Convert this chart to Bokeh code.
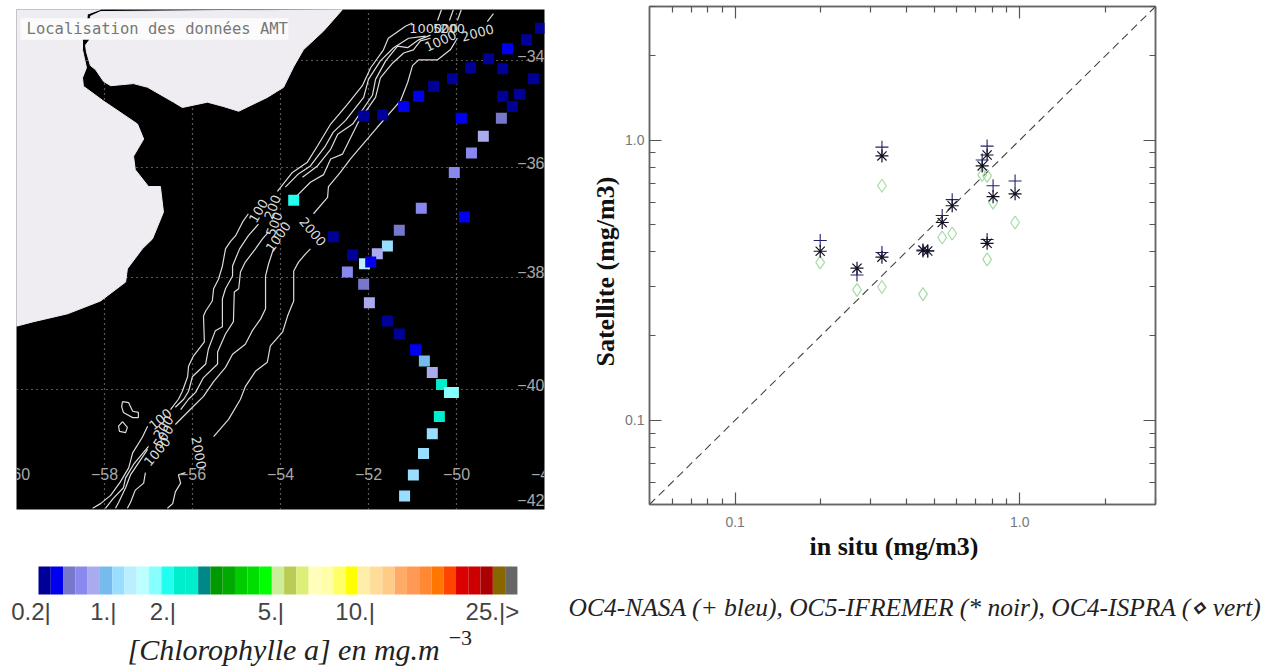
import numpy as np
from bokeh.core.properties import value
from bokeh.embed import file_html
from bokeh.layouts import column, row
from bokeh.models import FixedTicker, LogAxis, Range1d, Title
from bokeh.plotting import figure
from bokeh.resources import INLINE

nan = float("nan")

# ---- colour scale of the chlorophyll map
palette = ["#000099", "#0000ee", "#7777cc", "#8888ee", "#aaaaee", "#77bbee", "#99ddff", "#bbeeff", "#bbffff",
           "#88ffff", "#22ffee", "#00eecc", "#00eecc", "#008888", "#009900", "#00aa00", "#00cc00", "#00dd00",
           "#00ff00", "#ccee99", "#bbcc55", "#ddee77", "#ffffbb", "#ffffaa", "#ffff66", "#ffff00", "#ffeeaa",
           "#ffdd99", "#ffcc88", "#ffaa66", "#ff9955", "#ff8833", "#ff7700", "#ff4400", "#dd0000", "#cc0000",
           "#aa0000", "#886600", "#666666"]
scale_ticks = [1, 6.35, 11.2, 20, 27.4, 38]
scale_labels = ["0.2|", "1.|", "2.|", "5.|", "10.|", "25.|"]

# ---- AMT stations
st_lon = [-48.09, -48.41, -48.84, -49.27, -49.68, -48.95, -50.09, -48.25, -50.52, -50.86, -48.95, -48.57, -48.73,
          -51.20, -51.68, -52.11, -49.89, -48.98, -49.39, -49.66, -50.05, -49.82, -50.80, -51.30, -52.80, -51.57,
          -51.80, -52.36, -52.09, -51.95, -52.48, -52.11, -51.98, -51.57, -51.30, -50.93, -50.73, -50.55, -50.34,
          -50.07, -50.16, -50.39, -50.55, -50.75, -50.98, -51.18, -53.70]
st_lat = [-33.38, -33.60, -33.77, -33.96, -34.13, -34.15, -34.34, -34.34, -34.48, -34.67, -34.67, -34.63, -34.86,
          -34.86, -35.02, -35.04, -35.08, -35.08, -35.42, -35.73, -36.09, -36.91, -36.75, -37.15, -37.27, -37.44,
          -37.58, -37.60, -37.76, -37.73, -37.91, -38.13, -38.46, -38.79, -39.02, -39.30, -39.50, -39.70, -39.91,
          -40.05, -40.05, -40.47, -40.77, -41.11, -41.48, -41.84, -36.60]
st_class = [0, 0, 1, 0, 0, 0, 0, 0, 0, 1, 0, 0, 0,
            1, 0, 0, 1, 2, 4, 3, 3, 1, 3, 2, 0, 6,
            4, 0, 7, 1, 3, 2, 4, 0, 0, 1, 5, 4, 11,
            9, 9, 11, 6, 6, 6, 6, 10]

# ---- coastline
west_lon = [-60, -58.09, -58.39, -58.41, -58.50, -58.50, -58.41, -58.50, -58.48, -58.02, -57.57, -57.25, -57.11,
            -57.34, -57.30, -57.00, -56.73, -56.66, -56.91, -57.14, -57.48, -57.52, -58.09, -58.84, -59.61, -60]
west_lat = [-33.02, -33.02, -33.11, -33.32, -33.60, -33.79, -34.13, -34.32, -34.48, -34.76, -35.01, -35.19, -35.47,
            -35.79, -36.04, -36.35, -36.35, -36.82, -37.31, -37.49, -37.85, -38.09, -38.43, -38.66, -38.80, -38.88]
north_lon = [-58.09, -58.32, -58.34, -58.43, -58.41, -58.32, -58.20, -58.02, -57.86, -57.34, -57.02, -56.43, -56.23,
             -55.66, -55.30, -54.95, -54.30, -53.93, -53.70, -53.48, -53.02, -52.59]
north_lat = [-33.06, -33.15, -33.60, -33.70, -33.83, -34.09, -34.17, -34.39, -34.47, -34.43, -34.50, -34.78, -34.88,
             -34.78, -34.86, -34.95, -34.69, -34.50, -34.11, -33.79, -33.43, -33.02]

# ---- isobaths
iso100_lon = [-58.27, -58.09, -57.86, -57.64, -57.45, -57.36, -57.14, -57.02, nan, -56.50, -56.32, -56.23, -56.11,
              -56.09, -55.98, -55.73, -55.75, -55.70, -55.55, -55.52, -55.41, -55.32, -55.25, -55.14, -55.02, -54.86,
              -54.73, nan, -54.07, -53.73, -53.39, -53.16, -52.86, -52.48, -52.14, -51.95, -51.66, -51.55, -51.16,
              -51.00, nan, -50.43, -50.34]
iso100_lat = [-42.05, -41.97, -41.83, -41.60, -41.36, -41.10, -40.83, -40.64, nan, -40.35, -40.17, -40.03, -39.77,
              -39.59, -39.41, -39.16, -38.70, -38.61, -38.43, -38.21, -38.04, -37.80, -37.49, -37.36, -37.25, -37.00,
              -36.85, nan, -36.44, -36.09, -35.90, -35.60, -35.19, -34.82, -34.47, -34.13, -33.79, -33.57, -33.34,
              -33.28, nan, -33.23, -33.02]
iso200_lon = [-57.98, -57.80, -57.57, -57.52, -57.34, -57.00, nan, -56.39, -56.20, -56.09, -56.00, -55.70, -55.64,
              -55.48, -55.32, -55.32, -55.25, -55.09, -55.09, -54.93, -54.73, -54.50, nan, -53.89, -53.61, -53.32,
              -52.98, -52.80, -52.52, -52.11, -52.00, -51.73, -51.43, -51.09, -50.70, nan, -50.16, -50.07]
iso200_lat = [-42.05, -41.88, -41.70, -41.53, -41.30, -40.99, nan, -40.31, -40.17, -40.03, -39.77, -39.55, -39.29,
              -38.96, -38.89, -38.39, -38.21, -37.98, -37.80, -37.49, -37.25, -37.04, nan, -36.36, -36.13, -35.97,
              -35.60, -35.34, -35.12, -34.69, -34.35, -34.00, -33.75, -33.57, -33.53, nan, -33.23, -33.02]
iso500_lon = [-57.75, -57.68, -57.52, -57.41, -57.25, -57.02, nan, -56.27, -56.09, -55.93, -55.75, -55.43, -55.43,
              -55.25, -55.07, -55.05, -54.95, -54.91, -54.80, -54.57, -54.41, -54.27, nan, -53.50, -53.16, -52.86,
              -52.70, -52.36, -51.91, -51.84, -51.61, -51.34, -51.11, -50.86, -50.59, nan, -49.98, -49.89]
iso500_lat = [-42.05, -41.95, -41.70, -41.48, -41.30, -41.04, nan, -40.35, -40.17, -40.05, -39.79, -39.55, -39.34,
              -39.02, -38.80, -38.27, -38.21, -37.91, -37.73, -37.49, -37.31, -37.18, nan, -36.18, -35.97, -35.66,
              -35.38, -35.19, -34.65, -34.35, -34.00, -33.72, -33.75, -33.60, -33.51, nan, -33.23, -33.02]
iso1000_lon = [-57.48, -57.41, -57.30, -57.11, -57.07, nan, -56.39, -56.00, -55.75, -55.52, -55.25, -55.09, -54.80,
               -54.64, -54.45, -54.34, -54.34, -54.27, -54.16, nan, -53.64, -53.32, -53.02, -52.86, -52.59, -52.23,
               -51.84, -51.73, -51.45, -51.20, -50.98, -50.82, -50.59]
iso1000_lat = [-42.05, -41.95, -41.74, -41.62, -41.44, nan, -40.61, -40.31, -40.12, -39.86, -39.61, -39.38, -39.20,
               -38.96, -38.75, -38.57, -37.98, -37.76, -37.49, nan, -36.53, -36.27, -36.13, -35.84, -35.75, -35.15,
               -34.69, -34.32, -34.04, -33.85, -33.79, -33.62, -33.57]
iso2000_lon = [-56.57, -56.45, -56.39, -56.27, -56.32, -56.16, nan, -55.52, -55.18, -54.91, -54.80, -54.57, -54.30,
               -54.23, -53.95, -53.84, -53.70, -53.70, -53.59, -53.43, -53.32, nan, -53.25, -52.93, -52.91, -52.64,
               -52.41, -51.80, -51.27, -51.11, -51.00, -50.86, -50.43, -50.14, -49.98, nan, -49.30, -49.16]
iso2000_lat = [-42.05, -41.97, -41.77, -41.62, -41.48, -41.44, nan, -40.82, -40.52, -40.17, -39.95, -39.68, -39.52,
               -39.23, -38.98, -38.70, -38.43, -37.89, -37.73, -37.58, -37.49, nan, -36.85, -36.55, -36.35, -36.09,
               -35.84, -35.25, -34.75, -34.41, -34.09, -33.98, -33.98, -33.79, -33.57, nan, -33.25, -33.10]
blob1_lon = [-57.59, -57.45, -57.36, -57.23, -57.23, -57.36, -57.57, -57.61, -57.59]
blob1_lat = [-40.21, -40.23, -40.38, -40.40, -40.49, -40.49, -40.40, -40.30, -40.21]
blob2_lon = [-57.59, -57.48, -57.52, -57.66, -57.68, -57.59]
blob2_lat = [-40.56, -40.66, -40.75, -40.73, -40.64, -40.56]

iso_text = ["100", "200", "500", "1000", "2000", "100", "200", "500", "1000", "2000",
            "1000", "500", "200", "1000", "2000"]
iso_text_lon = [-56.73, -56.66, -56.66, -56.80, -55.86, -54.50, -54.18, -54.14, -54.05, -53.27,
                -50.70, -50.25, -50.09, -50.36, -49.52]
iso_text_lat = [-40.52, -40.66, -40.82, -41.08, -41.10, -36.80, -36.73, -37.04, -37.27, -37.18,
                -33.38, -33.38, -33.38, -33.62, -33.47]
iso_text_angle = [40, 55, 55, 50, -80, 60, 70, 70, 55, -50, 0, 0, 0, 25, 15]

lon_ticks = [-60, -58, -56, -54, -52, -50, -48]
lat_ticks = [-34, -36, -38, -40, -42]
lon_grid = [-58, -56, -54, -52, -50]
lat_grid = [-34, -36, -38, -40]

# ---- match-up: in situ against the three satellite algorithms
in_situ = [0.199, 0.268, 0.328, 0.328, 0.457, 0.475, 0.534, 0.579, 0.738, 0.768, 0.806, 0.768, 0.963]
oc4_nasa = [0.438, 0.330, 0.944, 0.397, 0.402, 0.402, 0.538, 0.613, 0.849, 0.952, 0.687, 0.442, 0.715]
oc5_ifremer = [0.401, 0.349, 0.878, 0.382, 0.405, 0.402, 0.508, 0.583, 0.809, 0.885, 0.628, 0.428, 0.643]
oc4_ispra = [0.366, 0.292, 0.687, 0.299, 0.282, nan, 0.449, 0.464, 0.751, 0.745, 0.598, 0.375, 0.508]
one_to_one = [0.05, 3.0]
major_ticks = [0.1, 1.0]
minor_ticks = [0.06, 0.07, 0.08, 0.09, 0.2, 0.3, 0.4, 0.5, 0.6, 0.7, 0.8, 0.9, 2.0, 3.0]


def merc(lat):
    return -np.arcsinh(np.tan(np.radians(-np.asarray(lat, dtype=float))))


INK = "#dcdcdc"

# ======================= map
m = figure(width=560, height=520, output_backend="svg", toolbar_location=None, frame_align=False,
           x_range=Range1d(-60, -48), y_range=Range1d(float(merc(-42.07)), float(merc(-33.02))),
           min_border_left=16, min_border_right=16, min_border_top=9, min_border_bottom=11,
           background_fill_color="black", border_fill_color="white")
m.axis.visible = False
m.outline_line_color = None
m.xgrid.ticker = FixedTicker(ticks=lon_grid)
m.ygrid.ticker = FixedTicker(ticks=[float(merc(t)) for t in lat_grid])
for g in (m.xgrid, m.ygrid):
    g.grid_line_color = "#b0b0b0"
    g.grid_line_dash = "1 4"
    g.grid_line_width = 1.2

m.patch(west_lon, merc(west_lat), fill_color="#efecf2", line_color="#efecf2")
m.patch(north_lon, merc(north_lat), fill_color="#efecf2", line_color="#efecf2")

for lo, la in [(iso100_lon, iso100_lat), (iso200_lon, iso200_lat), (iso500_lon, iso500_lat),
               (iso1000_lon, iso1000_lat), (iso2000_lon, iso2000_lat), (blob1_lon, blob1_lat),
               (blob2_lon, blob2_lat)]:
    m.line(lo, merc(la), line_color=INK, line_width=1.2)

m.text(iso_text_lon, merc(iso_text_lat), text=iso_text, angle=iso_text_angle, angle_units="deg",
       text_font=value("DejaVu Sans"), text_font_size="13px", text_color="#dcdcdc",
       text_align="center", text_baseline="middle")

m.scatter(st_lon, merc(st_lat), marker="square", size=11, line_color=None,
          fill_color=[palette[c] for c in st_class])

m.text(lon_ticks, merc([-41.46] * len(lon_ticks)), text=["\u2212" + str(-t) for t in lon_ticks],
       text_font=value("Liberation Sans"), text_font_size="16px", text_color="#a8a8a8",
       text_align="center", text_baseline="middle")
m.text([-48.0] * len(lat_ticks), merc(lat_ticks), text=["\u2212" + str(-t) for t in lat_ticks], y_offset=-5,
       text_font=value("Liberation Sans"), text_font_size="16px", text_color="#a8a8a8",
       text_align="right", text_baseline="middle")

m.quad(left=[-59.91], right=[-53.82], top=merc([-33.19]), bottom=merc([-33.60]), fill_color="#fbfbfb", line_color=None)
m.text([-59.77], merc([-33.40]), text=["Localisation des données AMT"],
       text_font=value("DejaVu Sans Mono"), text_font_size="15.5px", text_color="#777777",
       text_align="left", text_baseline="middle")

# ======================= colour scale
c = figure(width=560, height=150, output_backend="svg", toolbar_location=None, frame_align=False,
           x_range=Range1d(-38 / 12.28, 522 / 12.28), y_range=Range1d(-76 / 28, 1 + 46 / 28),
           min_border=0, outline_line_color=None, border_fill_color="white", background_fill_color="white")
c.axis.visible = False
c.grid.visible = False
cells = np.arange(len(palette))
c.quad(left=cells, right=cells + 1, top=1, bottom=0, fill_color=palette, line_color=None)
c.text(scale_ticks, [-0.6] * len(scale_ticks), text=scale_labels,
       text_font=value("Liberation Sans"), text_font_size="24px", text_color="#444444",
       text_align="right", text_baseline="middle")
c.text([38.0], [-0.6], text=[">"],
       text_font=value("Liberation Sans"), text_font_size="24px", text_color="#444444",
       text_align="left", text_baseline="middle")
c.text([7.25], [-1.95], text=["[Chlorophylle a] en mg.m"],
       text_font=value("Liberation Serif"), text_font_style="italic", text_font_size="30px",
       text_color="#222222", text_align="left", text_baseline="middle")
c.text([33.4], [-1.55], text=["\u22123"],
       text_font=value("Liberation Serif"), text_font_size="22px",
       text_color="#222222", text_align="left", text_baseline="middle")

# ======================= scatter
s = figure(width=714, height=560, output_backend="svg", toolbar_location=None, frame_align=False,
           x_axis_type="log", y_axis_type="log",
           x_range=Range1d(0.05, 3.0), y_range=Range1d(0.05, 3.0),
           min_border_left=89, min_border_right=119, min_border_top=6, min_border_bottom=52,
           background_fill_color="white", border_fill_color="white")
s.grid.visible = False
s.outline_line_color = "#666666"
s.outline_line_width = 1.5


def style_axis(ax):
    ax.ticker = FixedTicker(ticks=major_ticks, minor_ticks=minor_ticks)
    ax.major_label_overrides = {0.1: "0.1", 1.0: "1.0", 1: "1.0"}
    ax.axis_line_color = "#666666"
    ax.axis_line_width = 1.5
    ax.major_tick_line_color = "#555555"
    ax.minor_tick_line_color = "#555555"
    ax.major_tick_line_width = 1.2
    ax.minor_tick_line_width = 1.2
    ax.major_tick_in = 12
    ax.major_tick_out = 0
    ax.minor_tick_in = 6
    ax.minor_tick_out = 0
    ax.major_label_text_font = "Liberation Sans"
    ax.major_label_text_font_size = "14px"
    ax.major_label_text_color = "#777777"


for ax in (s.xaxis[0], s.yaxis[0]):
    style_axis(ax)
s.xaxis[0].major_label_standoff = 12
s.yaxis[0].major_label_standoff = 5

for side in ("right", "above"):
    ax = LogAxis()
    style_axis(ax)
    ax.major_label_text_color = None
    ax.major_label_text_font_size = "1px"
    ax.major_label_standoff = 0
    s.add_layout(ax, side)

s.add_layout(Title(text="Satellite (mg/m3)", align="left", offset=138, standoff=5,
                   text_font="Liberation Serif", text_font_style="bold", text_font_size="26px",
                   text_color="#111111"), "left")
s.add_layout(Title(text="in situ (mg/m3)", align="left", offset=160, standoff=0,
                   text_font="Liberation Serif", text_font_style="bold", text_font_size="26px",
                   text_color="#111111"), "below")

s.line(one_to_one, one_to_one, line_color="#444444", line_width=1.1, line_dash="8 5")
s.scatter(in_situ, oc4_ispra, marker="diamond", size=13, fill_color=None, line_color="#a4dca4", line_width=1.2)
s.scatter(in_situ, oc4_nasa, marker="cross", size=13, line_color="#20206e", line_width=1.1)
s.scatter(in_situ, oc5_ifremer, marker="asterisk", size=13, line_color="#111122", line_width=1.2)

# ======================= caption
t = figure(width=714, height=110, output_backend="svg", toolbar_location=None, frame_align=False,
           x_range=Range1d(0, 714), y_range=Range1d(0, 110), min_border=0,
           outline_line_color=None, border_fill_color="white", background_fill_color="white")
t.axis.visible = False
t.grid.visible = False
t.text([8], [63], text=["OC4-NASA (+ bleu), OC5-IFREMER (* noir), OC4-ISPRA (\u22c4 vert)"],
       text_font=value("Liberation Serif"), text_font_style="italic", text_font_size="25.5px",
       text_color="#222222", text_align="left", text_baseline="middle")

page = row(column(m, c, spacing=0), column(s, t, spacing=0), spacing=0)
open("out.html", "w").write(file_html(page, INLINE))
